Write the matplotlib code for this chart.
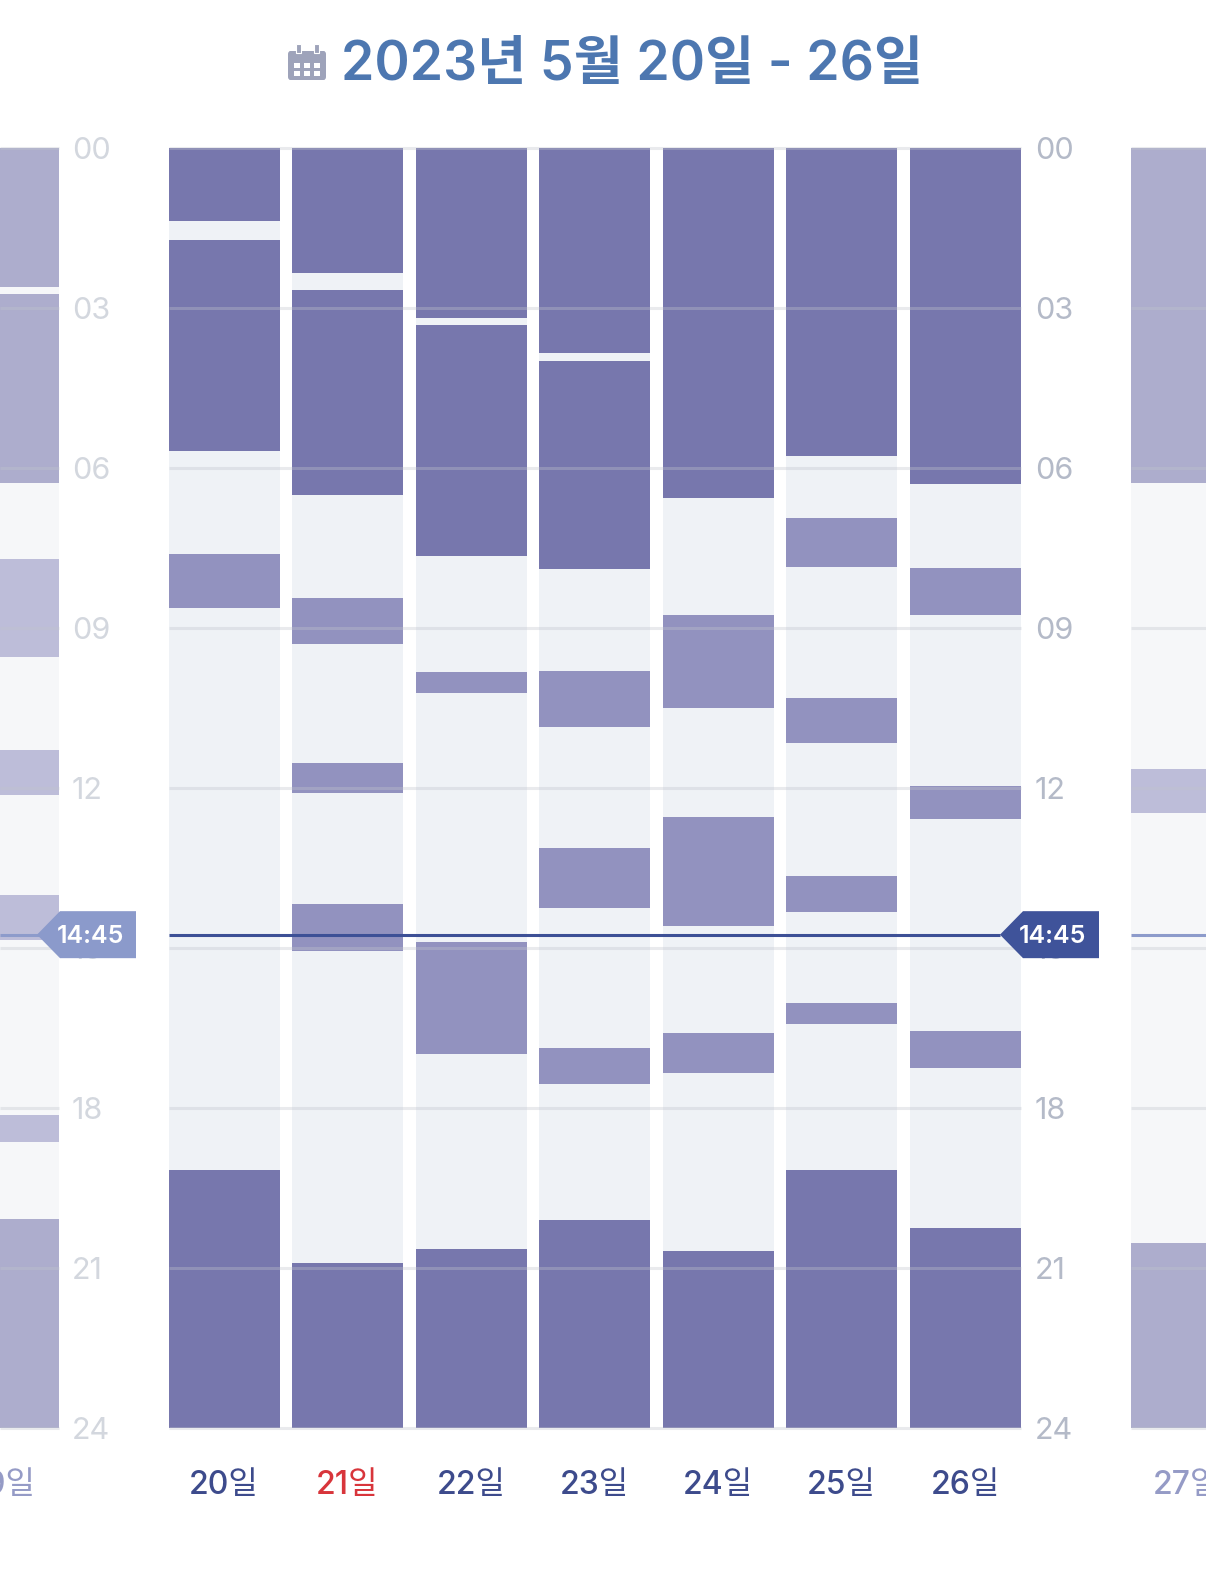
import matplotlib
matplotlib.use("Agg")
import matplotlib.pyplot as plt
from matplotlib.patches import Polygon, FancyBboxPatch, Rectangle

# ---------------- data ----------------
days = ['19일', '20일', '21일', '22일', '23일', '24일', '25일', '26일', '27일']
title = '2023년 5월 20일 - 26일'
hour_ticks = [0, 3, 6, 9, 12, 15, 18, 21, 24]
hour_labels = ['00', '03', '06', '09', '12', '15', '18', '21', '24']
now_hour = 14.75
now_label = '14:45'

# main sleep blocks (start hour, end hour) per day
sleep = [
    [(0, 2.61), (2.74, 6.28), (20.08, 24)],
    [(0, 1.37), (1.73, 5.68), (19.16, 24)],
    [(0, 2.34), (2.66, 6.51), (20.91, 24)],
    [(0, 3.19), (3.32, 7.65), (20.64, 24)],
    [(0, 3.84), (3.99, 7.89), (20.10, 24)],
    [(0, 6.56), (20.68, 24)],
    [(0, 5.78), (19.16, 24)],
    [(0, 6.30), (20.25, 24)],
    [(0, 6.28), (20.53, 24)],
]
# naps (start hour, end hour) per day
naps = [
    [(7.71, 9.54), (11.29, 12.13), (14.00, 14.85), (18.13, 18.64)],
    [(7.61, 8.63)],
    [(8.44, 9.30), (11.53, 12.09), (14.18, 15.06)],
    [(9.83, 10.22), (14.89, 16.99)],
    [(9.81, 10.86), (13.13, 14.25), (16.88, 17.55)],
    [(8.76, 10.50), (12.54, 14.59), (16.59, 17.34)],
    [(6.94, 7.86), (10.31, 11.16), (13.65, 14.33), (16.03, 16.43)],
    [(7.88, 8.76), (11.96, 12.58), (16.56, 17.25)],
    [(11.64, 12.47)],
]
faded = [True, False, False, False, False, False, False, False, True]
sunday = '21일'

# ---------------- layout ----------------
W, H = 1206, 1570
TOP, BOT = 148, 1428
PX_PER_H = (BOT - TOP) / 24.0
col_w = 111
pitch = 123.5
first_main = 224
xs = [first_main - 220.5] + [first_main + pitch * i for i in range(7)] + [first_main + pitch * 6 + 221.5]

MIX = ['Inter', 'Noto Sans CJK KR', 'DejaVu Sans']
NUM = ['Inter', 'DejaVu Sans']
fig = plt.figure(figsize=(W / 100, H / 100), dpi=100)
fig.patch.set_facecolor('white')
ax = fig.add_axes([0, 1 - BOT / H, 1, (BOT - TOP) / H])
ax.set_xlim(0, W)
ax.set_ylim(24, 0)
ax.axis('off')

def fx(px):
    return px / W

def fy(py):
    return 1 - py / H

# columns
for i, x in enumerate(xs):
    f = faded[i]
    bg = '#f6f7f9' if f else '#eff2f6'
    c_sleep = '#adadcd' if f else '#7777ad'
    c_nap = '#bdbdd9' if f else '#9292bf'
    ax.bar(x, 24, bottom=0, width=col_w, color=bg, linewidth=0, zorder=1)
    for s, e in sleep[i]:
        ax.bar(x, e - s, bottom=s, width=col_w, color=c_sleep, linewidth=0, zorder=2)
    for s, e in naps[i]:
        ax.bar(x, e - s, bottom=s, width=col_w, color=c_nap, linewidth=0, zorder=2)

# gridlines (on top, translucent)
regions = [(0, xs[0] + col_w / 2), (xs[1] - col_w / 2, xs[7] + col_w / 2), (xs[8] - col_w / 2, W)]
for h in hour_ticks:
    for a, b in regions:
        ax.hlines(h, a, b, color='#c0c4cc', alpha=0.35, lw=2.2, zorder=3, clip_on=False)

# hour labels
for h, lab in zip(hour_ticks, hour_labels):
    ax.text(72, h + 0.05, lab, ha='left', va='center', fontsize=22, color='#d3d7de',
            family=NUM, zorder=4)
    ax.text(1035, h + 0.05, lab, ha='left', va='center', fontsize=22, color='#b4bac8',
            family=NUM, zorder=4)

# current time line and tags
ax.hlines(now_hour, xs[1] - col_w / 2, 1000, color='#3d5096', lw=2.2, zorder=5)
ax.hlines(now_hour, 0, 40, color='#8d9bcb', lw=2.2, zorder=5)
ax.hlines(now_hour, xs[8] - col_w / 2, W, color='#8d9bcb', lw=2.2, zorder=5)
half = 23.5 / PX_PER_H
for tx, col in [(37, '#8b9acb'), (1000, '#3f539a')]:
    poly = Polygon([(tx, now_hour), (tx + 23, now_hour - half), (tx + 99, now_hour - half),
                    (tx + 99, now_hour + half), (tx + 23, now_hour + half)],
                   closed=True, facecolor=col, edgecolor='none', zorder=6)
    ax.add_patch(poly)
    ax.text(tx + 53, now_hour + 0.03, now_label, ha='center', va='center', fontsize=18,
            color='white', fontweight='semibold', family=NUM, zorder=7)

# day labels
for i, (x, d) in enumerate(zip(xs, days)):
    if faded[i]:
        c = '#959bc6'
    elif d == sunday:
        c = '#d8353b'
    else:
        c = '#3d4b8c'
    fig.text(fx(x), fy(1486), d, ha='center', va='center', fontsize=23, color=c,
             family=MIX, fontweight='medium')

# title
fig.text(fx(632), fy(66), title, ha='center', va='center', fontsize=38.5, color='#4d77b0',
         family=MIX, fontweight='semibold')

# calendar icon
ic = '#9ea3ba'
fig.add_artist(FancyBboxPatch((fx(288), fy(80)), fx(38), 29 / H, boxstyle='round,pad=0,rounding_size=0.002',
                              transform=fig.transFigure, facecolor=ic, edgecolor='none'))
for rx in (296, 314):
    fig.add_artist(Rectangle((fx(rx), fy(53)), fx(5), 9 / H, transform=fig.transFigure,
                             facecolor=ic, edgecolor='white', lw=0.8))
for r in range(2):
    for c in range(3):
        fig.add_artist(Rectangle((fx(294 + c * 10), fy(68 + r * 8)), fx(6), 5 / H,
                                 transform=fig.transFigure, facecolor='white', edgecolor='none'))

fig.savefig('out.png', dpi=100, facecolor='white')
